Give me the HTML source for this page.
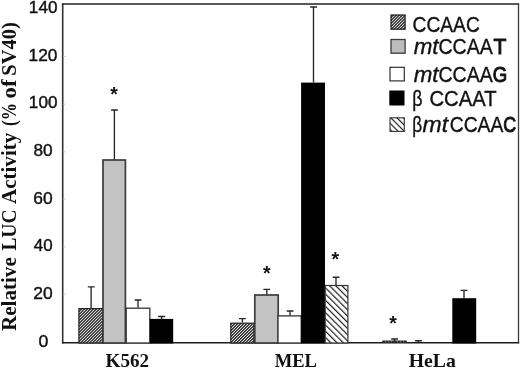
<!DOCTYPE html>
<html>
<head>
<meta charset="utf-8">
<title>Relative LUC Activity</title>
<style>
html,body{margin:0;padding:0;background:#fff;}
body{width:520px;height:370px;overflow:hidden;font-family:"Liberation Sans",sans-serif;}
svg{display:block;}
.tick{font-family:"Liberation Sans",sans-serif;font-size:17.5px;fill:#111;}
.leg{font-family:"Liberation Sans",sans-serif;font-size:19px;fill:#111;}
.xl{font-family:"Liberation Serif",serif;font-weight:bold;font-size:19px;fill:#111;}
.yl{font-family:"Liberation Serif",serif;font-weight:bold;font-size:20.6px;fill:#111;}
.ast{font-family:"Liberation Sans",sans-serif;font-weight:bold;font-size:15px;fill:#111;}
.eb{stroke:#262626;stroke-width:1.35;fill:none;}
</style>
</head>
<body>
<svg width="520" height="370" viewBox="0 0 520 370">
<defs>
  <pattern id="hatch" patternUnits="userSpaceOnUse" width="2.12" height="2.12" patternTransform="rotate(45)">
    <rect x="0" y="0" width="2.12" height="2.12" fill="#fff"/>
    <rect x="0" y="0" width="1.15" height="2.12" fill="#050505"/>
  </pattern>
  <pattern id="bhatch" patternUnits="userSpaceOnUse" width="4.38" height="4.38" patternTransform="rotate(-45) translate(-0.27 0)">
    <rect x="0" y="0" width="4.38" height="4.38" fill="#fff"/>
    <rect x="0" y="0" width="1.15" height="4.38" fill="#1a1a1a"/>
  </pattern>
</defs>
<rect x="0" y="0" width="520" height="370" fill="#fff"/>

<!-- frame -->
<g id="frame" stroke="#333" fill="none">
  <line x1="62.7" y1="3.4" x2="62.7" y2="343.4" stroke-width="1.6"/>
  <line x1="62" y1="3.95" x2="519.1" y2="3.95" stroke-width="1.4" stroke="#222"/>
  <line x1="518.5" y1="3.4" x2="518.5" y2="343.4" stroke-width="1.3" stroke="#3a3a3a"/>
  <line x1="62" y1="342.7" x2="519.1" y2="342.7" stroke-width="1.5" stroke="#1c1c1c"/>
</g>
<!-- faint ticks -->
<g stroke="#bbb" stroke-width="0.8">
  <line x1="63" y1="56.4" x2="65.5" y2="56.4"/>
  <line x1="63" y1="104.2" x2="65.5" y2="104.2"/>
  <line x1="63" y1="151.8" x2="65.5" y2="151.8"/>
  <line x1="63" y1="199.2" x2="65.5" y2="199.2"/>
  <line x1="63" y1="246.8" x2="65.5" y2="246.8"/>
  <line x1="63" y1="294.4" x2="65.5" y2="294.4"/>
</g>

<!-- K562 bars -->
<g id="k562">
  <rect x="78.9" y="308.6" width="23.8" height="34.4" fill="url(#hatch)" stroke="#222" stroke-width="1.2"/>
  <rect x="103.0" y="160.0" width="22.4" height="183" fill="#c3c3c3" stroke="#3c3c3c" stroke-width="1.7"/>
  <rect x="126.2" y="308.2" width="23.6" height="34.8" fill="#fff" stroke="#333" stroke-width="1.3"/>
  <rect x="149.8" y="318.9" width="23.4" height="24.6" fill="#000"/>
  <path class="eb" d="M91.1 308 V286.8 M87.8 286.8 H94.6"/>
  <path class="eb" d="M114.4 159.5 V110 M111.1 110 H117.9"/>
  <path class="eb" d="M138 307.6 V300 M134.7 300 H141.5"/>
  <path class="eb" d="M161.6 319 V316.5 M158.2 316.5 H165.1"/>
</g>

<!-- MEL bars -->
<g id="mel">
  <rect x="230.8" y="323.2" width="23.2" height="19.8" fill="url(#hatch)" stroke="#222" stroke-width="1.2"/>
  <rect x="254.8" y="295.0" width="23.4" height="48" fill="#c3c3c3" stroke="#3c3c3c" stroke-width="1.7"/>
  <rect x="278" y="315.9" width="23.2" height="27.1" fill="#fff" stroke="#333" stroke-width="1.3"/>
  <rect x="301.1" y="82.6" width="23.9" height="260.9" fill="#000"/>
  <rect x="325.2" y="285.5" width="22.7" height="57.5" fill="url(#bhatch)" stroke="#333" stroke-width="1.2"/>
  <path class="eb" d="M242.4 322.6 V318.6 M239.0 318.6 H245.8"/>
  <path class="eb" d="M266.8 294.6 V289.4 M263.4 289.4 H270.2"/>
  <path class="eb" d="M290 315.4 V311 M286.7 311 H293.5"/>
  <path class="eb" d="M313.5 82.6 V7 M310.2 7 H317.0"/>
  <path class="eb" d="M336 285 V277.2 M332.7 277.2 H339.5"/>
</g>

<!-- HeLa bars -->
<g id="hela">
  <rect x="382.2" y="340.5" width="24.6" height="2.4" fill="#2a2a2a"/>
  <path d="M385.5 340.4v2 M388.5 340.4v2 M391.5 340.4v2 M397.5 340.4v2 M400.5 340.4v2 M403.5 340.4v2" stroke="#999" stroke-width="0.7"/>
  <rect x="452.3" y="298.2" width="23.9" height="45.3" fill="#000"/>
  <path class="eb" d="M394.6 341 V339 M391.2 339 H398.0"/>
  <path class="eb" d="M418.4 343 V340.7 M415.1 340.7 H421.9"/>
  <path class="eb" d="M464 298.2 V290.3 M460.6 290.3 H467.4"/>
</g>

<!-- legend -->
<g id="legend">
  <rect x="391.0" y="15.0" width="14.1" height="14.2" fill="url(#hatch)" stroke="#1c1c1c" stroke-width="1.2"/>
  <rect x="391.0" y="39.5" width="14.1" height="13.7" fill="#bcbcbc" stroke="#3a3a3a" stroke-width="1.3"/>
  <rect x="390.0" y="67.3" width="14.3" height="13.6" fill="#fff" stroke="#303030" stroke-width="1.2"/>
  <rect x="389.3" y="90.5" width="15.2" height="15.0" fill="#000"/>
  <rect x="390.0" y="117.8" width="14.3" height="13.6" fill="url(#bhatch)" stroke="#333" stroke-width="1.1"/>
</g>
<g id="texts" opacity="0.999">
<text transform="translate(28.87 13.15) scale(1.0318 1)" font-family='"Liberation Sans", sans-serif' font-weight="normal" font-style="normal" font-size="16.6" fill="#111" stroke="#111" stroke-width="0.4">140</text>
<text transform="translate(28.56 60.81) scale(1.0433 1)" font-family='"Liberation Sans", sans-serif' font-weight="normal" font-style="normal" font-size="16.6" fill="#111" stroke="#111" stroke-width="0.4">120</text>
<text transform="translate(28.87 108.47) scale(1.0318 1)" font-family='"Liberation Sans", sans-serif' font-weight="normal" font-style="normal" font-size="16.6" fill="#111" stroke="#111" stroke-width="0.4">100</text>
<text transform="translate(33.38 156.13) scale(1.0400 1)" font-family='"Liberation Sans", sans-serif' font-weight="normal" font-style="normal" font-size="16.6" fill="#111" stroke="#111" stroke-width="0.4">80</text>
<text transform="translate(33.20 203.79) scale(1.0500 1)" font-family='"Liberation Sans", sans-serif' font-weight="normal" font-style="normal" font-size="16.6" fill="#111" stroke="#111" stroke-width="0.4">60</text>
<text transform="translate(33.73 251.45) scale(1.0206 1)" font-family='"Liberation Sans", sans-serif' font-weight="normal" font-style="normal" font-size="16.6" fill="#111" stroke="#111" stroke-width="0.4">40</text>
<text transform="translate(33.20 299.11) scale(1.0500 1)" font-family='"Liberation Sans", sans-serif' font-weight="normal" font-style="normal" font-size="16.6" fill="#111" stroke="#111" stroke-width="0.4">20</text>
<text transform="translate(38.57 346.77) scale(1.0680 1)" font-family='"Liberation Sans", sans-serif' font-weight="normal" font-style="normal" font-size="16.6" fill="#111" stroke="#111" stroke-width="0.4">0</text>
<text transform="translate(105.57 367.20) scale(0.9922 1)" font-family='"Liberation Serif", serif' font-weight="bold" font-style="normal" font-size="19.3" fill="#111">K562</text>
<text transform="translate(274.68 367.20) scale(0.9642 1)" font-family='"Liberation Serif", serif' font-weight="bold" font-style="normal" font-size="19.3" fill="#111">MEL</text>
<text transform="translate(408.66 367.20) scale(1.0220 1)" font-family='"Liberation Serif", serif' font-weight="bold" font-style="normal" font-size="19.3" fill="#111">HeLa</text>
<text transform="translate(412.51 31.90) scale(0.8865 1)" font-family='"Liberation Sans", sans-serif' font-weight="normal" font-style="normal" font-size="21.7" fill="#111" stroke="#111" stroke-width="0.35">CCAAC</text>
<text transform="translate(413.63 54.00) scale(1.0309 1)" font-family='"Liberation Sans", sans-serif' font-weight="normal" font-style="italic" font-size="21.7" fill="#111" stroke="#111" stroke-width="0.35">mt</text>
<text transform="translate(438.50 54.00) scale(0.9008 1)" font-family='"Liberation Sans", sans-serif' font-weight="normal" font-style="normal" font-size="21.7" fill="#111" stroke="#111" stroke-width="0.35">CCAA</text>
<text transform="translate(493.60 54.00) scale(0.9675 1)" font-family='"Liberation Sans", sans-serif' font-weight="normal" font-style="normal" font-size="21.7" fill="#111" stroke="#111" stroke-width="1.0">T</text>
<text transform="translate(413.63 81.60) scale(1.0309 1)" font-family='"Liberation Sans", sans-serif' font-weight="normal" font-style="italic" font-size="21.7" fill="#111" stroke="#111" stroke-width="0.35">mt</text>
<text transform="translate(438.50 81.60) scale(0.9008 1)" font-family='"Liberation Sans", sans-serif' font-weight="normal" font-style="normal" font-size="21.7" fill="#111" stroke="#111" stroke-width="0.35">CCAA</text>
<text transform="translate(492.83 81.60) scale(0.8571 1)" font-family='"Liberation Sans", sans-serif' font-weight="normal" font-style="normal" font-size="21.7" fill="#111" stroke="#111" stroke-width="1.0">G</text>
<text transform="translate(412.31 105.90) scale(0.8190 1)" font-family='"Liberation Sans", sans-serif' font-weight="normal" font-style="normal" font-size="21.7" fill="#111" stroke="#111" stroke-width="0.35">β</text>
<text transform="translate(429.47 105.90) scale(0.9333 1)" font-family='"Liberation Sans", sans-serif' font-weight="normal" font-style="normal" font-size="21.7" fill="#111" stroke="#111" stroke-width="0.35">CCAAT</text>
<text transform="translate(412.35 132.00) scale(0.7905 1)" font-family='"Liberation Sans", sans-serif' font-weight="normal" font-style="normal" font-size="21.7" fill="#111" stroke="#111" stroke-width="0.35">β</text>
<text transform="translate(422.52 132.00) scale(1.0591 1)" font-family='"Liberation Sans", sans-serif' font-weight="normal" font-style="italic" font-size="21.7" fill="#111" stroke="#111" stroke-width="0.35">mt</text>
<text transform="translate(449.71 132.00) scale(0.8908 1)" font-family='"Liberation Sans", sans-serif' font-weight="normal" font-style="normal" font-size="21.7" fill="#111" stroke="#111" stroke-width="0.35">CCAA</text>
<text transform="translate(503.25 132.00) scale(0.8225 1)" font-family='"Liberation Sans", sans-serif' font-weight="normal" font-style="normal" font-size="21.7" fill="#111" stroke="#111" stroke-width="1.0">C</text>
<text transform="translate(15.60 0) rotate(-90) translate(-331.04 0) scale(1.0244 1)" font-family='"Liberation Serif", serif' font-weight="bold" font-style="normal" font-size="20.6" fill="#111">Relative</text>
<text transform="translate(15.60 0) rotate(-90) translate(-250.62 0) scale(0.9456 1)" font-family='"Liberation Serif", serif' font-weight="bold" font-style="normal" font-size="20.6" fill="#111">LUC</text>
<text transform="translate(15.60 0) rotate(-90) translate(-204.07 0) scale(1.0240 1)" font-family='"Liberation Serif", serif' font-weight="bold" font-style="normal" font-size="20.6" fill="#111">Activity</text>
<text transform="translate(15.60 0) rotate(-90) translate(-126.00 0) scale(0.8392 1)" font-family='"Liberation Serif", serif' font-weight="bold" font-style="normal" font-size="20.6" fill="#111">(%</text>
<text transform="translate(15.60 0) rotate(-90) translate(-98.41 0) scale(1.0970 1)" font-family='"Liberation Serif", serif' font-weight="bold" font-style="normal" font-size="20.6" fill="#111">of</text>
<text transform="translate(15.60 0) rotate(-90) translate(-75.66 0) scale(0.9929 1)" font-family='"Liberation Serif", serif' font-weight="bold" font-style="normal" font-size="20.6" fill="#111">SV40)</text>
<text x="110.37" y="100.75" font-family='"Liberation Sans", sans-serif' font-weight="bold" font-size="19.5" fill="#111">*</text>
<text x="262.97" y="279.95" font-family='"Liberation Sans", sans-serif' font-weight="bold" font-size="19.5" fill="#111">*</text>
<text x="331.57" y="266.45" font-family='"Liberation Sans", sans-serif' font-weight="bold" font-size="19.5" fill="#111">*</text>
<text x="389.17" y="330.35" font-family='"Liberation Sans", sans-serif' font-weight="bold" font-size="19.5" fill="#111">*</text>
</g>
</svg>
</body>
</html>
